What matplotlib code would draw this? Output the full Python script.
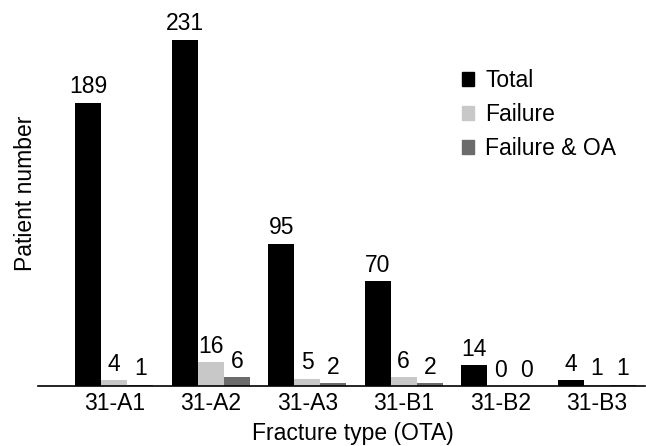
import matplotlib
matplotlib.use('Agg')
import matplotlib.pyplot as plt
from matplotlib.patches import Patch
import numpy as np

categories = ['31-A1', '31-A2', '31-A3', '31-B1', '31-B2', '31-B3']
total = [189, 231, 95, 70, 14, 4]
failure = [4, 16, 5, 6, 0, 1]
failure_oa = [1, 6, 2, 2, 0, 1]

plt.rcParams['font.family'] = ['Liberation Sans', 'DejaVu Sans']
plt.rcParams['font.size'] = 16.5

fig = plt.figure(figsize=(6.46, 4.46), dpi=100)
ax = fig.add_axes([38 / 646, 60 / 446, 607 / 646, 375 / 446])

x = np.arange(len(categories))
w = 0.27
series = [(total, '#000000', 'Total'),
          (failure, '#c8c8c8', 'Failure'),
          (failure_oa, '#6b6b6b', 'Failure & OA')]

for i, (vals, color, label) in enumerate(series):
    bars = ax.bar(x + (i - 1) * w, vals, w, color=color, label=label)
    for b, v in zip(bars, vals):
        ax.annotate(str(v), (b.get_x() + b.get_width() / 2, b.get_height()),
                    xytext=(0, 3), textcoords='offset points',
                    ha='center', va='bottom', fontsize=16.5)

ax.set_xlim(-0.79, 5.5)
ax.set_ylim(0, 250)
ax.set_xticks(x)
ax.set_xticklabels(categories)
ax.set_yticks([])
ax.tick_params(axis='x', length=0, pad=4)
for s in ['top', 'right', 'left']:
    ax.spines[s].set_visible(False)
ax.spines['bottom'].set_linewidth(1.2)

ax.set_xlabel('Fracture type (OTA)', labelpad=6)
ax.xaxis.set_label_coords(0.519, -0.095)
ax.set_ylabel('Patient number', labelpad=1)
ax.yaxis.label.set_y(0.515)

handles = [Patch(color=c, label=l) for _, c, l in series]
ax.legend(handles=handles, loc='upper left', bbox_to_anchor=(0.665, 0.90),
          frameon=False, handlelength=0.5, handleheight=0.5,
          handletextpad=0.5, labelspacing=0.48)

fig.savefig('out.png', dpi=100)
